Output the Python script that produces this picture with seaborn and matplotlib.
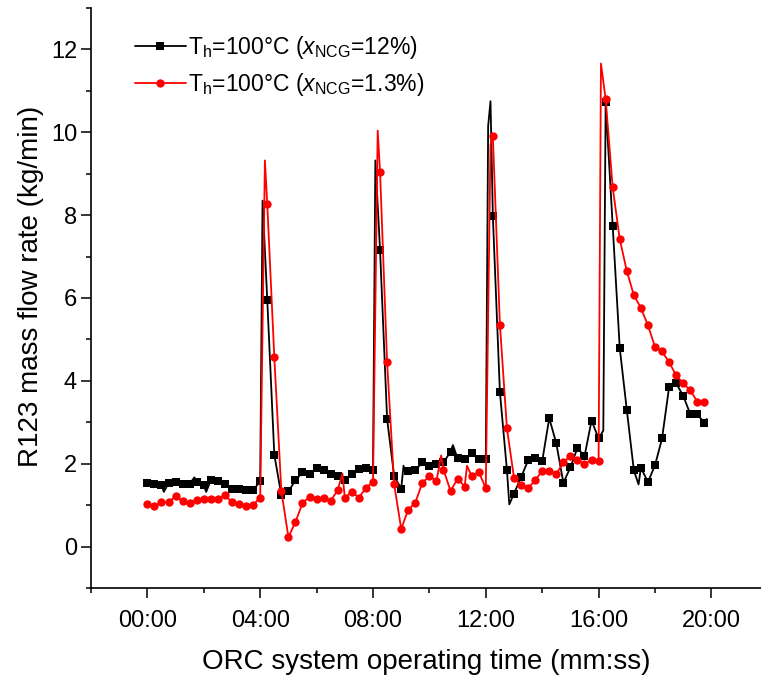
import numpy as np
import pandas as pd
import matplotlib
matplotlib.use("Agg")
import matplotlib.pyplot as plt
import seaborn as sns
from matplotlib.ticker import MultipleLocator, FuncFormatter
from matplotlib.lines import Line2D

# ---------------- data ----------------
sample_step_s = 15  # markers every 15 s

black_marker_vals = [
    1.53, 1.52, 1.48, 1.53, 1.56, 1.52, 1.52, 1.56, 1.48, 1.60,
    1.58, 1.50, 1.40, 1.38, 1.37, 1.36, 1.58, 5.96, 2.22, 1.24,
    1.33, 1.60, 1.79, 1.74, 1.90, 1.84, 1.76, 1.70, 1.60, 1.75,
    1.88, 1.90, 1.86, 7.16, 3.08, 1.70, 1.40, 1.83, 1.84, 2.03,
    1.94, 2.00, 2.03, 2.29, 2.13, 2.11, 2.25, 2.11, 2.11, 7.97,
    3.73, 1.84, 1.28, 1.67, 2.08, 2.15, 2.06, 3.10, 2.49, 1.54,
    1.91, 2.38, 2.18, 3.04, 2.61, 10.73, 7.74, 4.79, 3.30, 1.84,
    1.90, 1.56, 1.96, 2.61, 3.85, 3.94, 3.64, 3.20, 3.19, 2.99,
]
red_marker_vals = [
    1.03, 0.97, 1.07, 1.07, 1.22, 1.10, 1.06, 1.12, 1.16, 1.14,
    1.14, 1.24, 1.07, 1.03, 0.99, 1.01, 1.18, 8.27, 4.57, 1.34,
    0.23, 0.59, 1.05, 1.20, 1.16, 1.17, 1.10, 1.37, 1.18, 1.32,
    1.18, 1.42, 1.56, 9.05, 4.45, 1.50, 0.43, 0.89, 1.06, 1.54,
    1.70, 1.58, 1.86, 1.34, 1.64, 1.45, 1.70, 1.80, 1.41, 9.90,
    5.36, 2.85, 1.66, 1.48, 1.41, 1.60, 1.83, 1.83, 1.75, 2.03,
    2.19, 2.08, 1.99, 2.10, 2.07, 10.80, 8.67, 7.42, 6.65, 6.07,
    5.76, 5.34, 4.82, 4.71, 4.45, 4.13, 3.94, 3.77, 3.50, 3.50,
]
# line-only samples (no marker drawn), time in seconds
black_extra_t = [35, 100, 125, 245, 485, 545, 550, 650, 725, 730, 770, 970, 1045, 1190]
black_extra_v = [1.32, 1.67, 1.32, 8.35, 9.32, 1.95, 1.75, 2.45, 10.15, 10.75, 1.02, 2.80, 1.50, 3.08]
red_extra_t = [250, 415, 490, 625, 680, 730, 965]
red_extra_v = [9.32, 1.76, 10.04, 2.20, 1.95, 9.70, 11.66]

series_labels = [
    r"T$_\mathregular{h}$=100°C ($x_\mathregular{NCG}$=12%)",
    r"T$_\mathregular{h}$=100°C ($x_\mathregular{NCG}$=1.3%)",
]
x_label = "ORC system operating time (mm:ss)"
y_label = "R123 mass flow rate (kg/min)"


def build(marker_vals, extra_t, extra_v):
    mt = sample_step_s * np.arange(len(marker_vals))
    markers = pd.DataFrame({"t": mt, "v": marker_vals})
    extra = pd.DataFrame({"t": extra_t, "v": extra_v})
    line = pd.concat([markers, extra]).sort_values("t").reset_index(drop=True)
    return markers, line


black_m, black_l = build(black_marker_vals, black_extra_t, black_extra_v)
red_m, red_l = build(red_marker_vals, red_extra_t, red_extra_v)

# ---------------- style ----------------
sns.set_theme(style="ticks")
plt.rcParams["font.family"] = ["Liberation Sans", "DejaVu Sans"]
plt.rcParams["mathtext.fontset"] = "custom"
plt.rcParams["mathtext.rm"] = "Liberation Sans"
plt.rcParams["mathtext.it"] = "Liberation Sans:italic"
plt.rcParams["text.color"] = "black"
plt.rcParams["axes.labelcolor"] = "black"

fig = plt.figure(figsize=(7.61, 6.88), dpi=100)
ax = fig.add_axes([91 / 761, 100 / 688, 670 / 761, 580 / 688])

lw = 1.3
sns.lineplot(data=black_l, x="t", y="v", color="black", lw=lw, ax=ax,
             estimator=None, sort=False, legend=False)
sns.scatterplot(data=black_m, x="t", y="v", marker="s", s=28, color="black",
                edgecolor="black", linewidth=0, ax=ax, legend=False, zorder=3)
sns.lineplot(data=red_l, x="t", y="v", color="#ff0000", lw=lw, ax=ax,
             estimator=None, sort=False, legend=False, zorder=4)
sns.scatterplot(data=red_m, x="t", y="v", marker="o", s=36, color="#ff0000",
                edgecolor="#ff0000", linewidth=0, ax=ax, legend=False, zorder=5)

ax.set_xlim(-120, -120 + 670 / 28.2 * 60)
ax.set_ylim(-1, 13)

ax.xaxis.set_major_locator(MultipleLocator(240))
ax.xaxis.set_minor_locator(MultipleLocator(120))
ax.xaxis.set_major_formatter(FuncFormatter(lambda t, p: "%02d:%02d" % (int(t // 60), int(t % 60))))
ax.yaxis.set_major_locator(MultipleLocator(2))
ax.yaxis.set_minor_locator(MultipleLocator(1))

for side in ["top", "right"]:
    ax.spines[side].set_visible(False)
for side in ["left", "bottom"]:
    ax.spines[side].set_linewidth(1.2)
    ax.spines[side].set_color("black")

ax.tick_params(axis="both", which="major", direction="out", length=7, width=1.1,
               labelsize=17, colors="black", pad=3)
ax.tick_params(axis="both", which="minor", direction="out", length=3.5, width=1.1,
               colors="black")
ax.tick_params(axis="x", which="major", pad=9)

ax.set_xlabel(x_label, fontsize=20, labelpad=12, color="black")
ax.set_ylabel(y_label, fontsize=20, labelpad=4, color="black")
ax.yaxis.set_label_coords(-0.07, 0.52)

handles = [
    Line2D([], [], color="black", lw=lw, marker="s", markersize=5.3, markeredgewidth=0),
    Line2D([], [], color="#ff0000", lw=lw, marker="o", markersize=6, markeredgewidth=0),
]
ax.legend(handles, series_labels, loc="upper left", bbox_to_anchor=(0.066, 0.955),
          frameon=False, fontsize=16.5, handlelength=2.2, handletextpad=0.1,
          borderpad=0, borderaxespad=0, labelspacing=0.45, labelcolor="black")

fig.savefig("out.png", dpi=100)
